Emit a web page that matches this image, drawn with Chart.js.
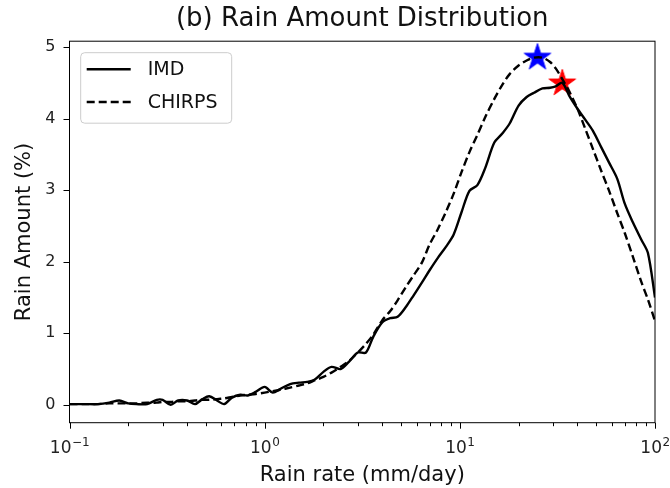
<!DOCTYPE html>
<html>
<head>
<meta charset="utf-8">
<script src="https://cdn.jsdelivr.net/npm/chart.js@4.4.0/dist/chart.umd.min.js"></script>
<style>
  html, body { margin: 0; padding: 0; background: #fff; }
</style>
</head>
<body>
<canvas id="rainChart" width="670" height="488"></canvas>
<script>
// ---------- Data ----------
const rainRate = [0.1, 0.12, 0.14, 0.16, 0.18, 0.2, 0.22, 0.25, 0.28, 0.3,
  0.33, 0.36, 0.4, 0.44, 0.48, 0.52, 0.57, 0.62, 0.68, 0.75,
  0.82, 0.9, 1.0, 1.1, 1.2, 1.35, 1.5, 1.65, 1.8, 2.0,
  2.2, 2.45, 2.7, 3.0, 3.3, 3.6, 4.0, 4.4, 4.8, 5.3,
  5.8, 6.4, 7.0, 7.7, 8.5, 9.3, 10.2, 11.2, 12.3, 13.5,
  15, 16.5, 18, 20, 22, 24, 26.5, 29, 31, 33.5,
  36.5, 40, 44, 48, 53, 58, 64, 70, 77, 85,
  92, 100];

const imdAmount = [0.01, 0.01, 0.01, 0.03, 0.06, 0.02, 0.01, 0.01, 0.07, 0.07,
  0.00, 0.06, 0.06, 0.01, 0.08, 0.12, 0.06, 0.01, 0.10, 0.14,
  0.13, 0.18, 0.25, 0.17, 0.22, 0.29, 0.31, 0.32, 0.35, 0.46,
  0.53, 0.50, 0.60, 0.73, 0.73, 0.95, 1.15, 1.21, 1.23, 1.37,
  1.53, 1.71, 1.88, 2.05, 2.21, 2.38, 2.69, 2.99, 3.07, 3.31,
  3.66, 3.79, 3.93, 4.18, 4.30, 4.36, 4.42, 4.43, 4.45, 4.50,
  4.31, 4.14, 3.98, 3.83, 3.60, 3.39, 3.16, 2.81, 2.55, 2.31,
  2.12, 1.50];

const chirpsAmount = [0.01, 0.01, 0.01, 0.02, 0.02, 0.02, 0.02, 0.03, 0.03, 0.04,
  0.04, 0.05, 0.05, 0.06, 0.07, 0.07, 0.08, 0.09, 0.11, 0.13,
  0.14, 0.15, 0.17, 0.19, 0.21, 0.24, 0.27, 0.30, 0.34, 0.39,
  0.45, 0.53, 0.61, 0.73, 0.85, 0.98, 1.18, 1.31, 1.46, 1.65,
  1.81, 1.99, 2.24, 2.45, 2.70, 2.95, 3.25, 3.53, 3.77, 4.02,
  4.27, 4.47, 4.62, 4.74, 4.81, 4.85, 4.85, 4.79, 4.70, 4.55,
  4.37, 4.14, 3.85, 3.58, 3.27, 3.00, 2.68, 2.40, 2.07, 1.72,
  1.47, 1.17];

// peak markers (stars)
const imdPeak = [{ x: 33.5, y: 4.51 }];
const chirpsPeak = [{ x: 25, y: 4.87 }];

const xMajorTicks = [0.1, 1, 10, 100];
const xTickLabels = ['10^\u22121', '10^0', '10^1', '10^2'];
const xMinorTicks = [0.1, 1, 10].flatMap(d => [2, 3, 4, 5, 6, 7, 8, 9].map(k => k * d));
const yTicks = [0, 1, 2, 3, 4, 5];

const FONT = "'DejaVu Sans', sans-serif";

// ---------- Helpers ----------

// filled 5-point star drawn on a small canvas, used as a point style
function makeStar(color, r) {
  const size = Math.ceil(r * 2 + 4);
  const c = document.createElement('canvas');
  c.width = size; c.height = size;
  const g = c.getContext('2d');
  const cx = size / 2, cy = size / 2 + r * 0.1;
  g.beginPath();
  for (let i = 0; i < 10; i++) {
    const rad = i % 2 === 0 ? r : r * 0.382;
    const a = -Math.PI / 2 + i * Math.PI / 5;
    const px = cx + rad * Math.cos(a), py = cy + rad * Math.sin(a);
    if (i === 0) g.moveTo(px, py); else g.lineTo(px, py);
  }
  g.closePath();
  g.fillStyle = color;
  g.strokeStyle = color;
  g.lineWidth = 1;
  g.fill();
  g.stroke();
  return c;
}

// full box around the axes, tick marks and 10^n tick labels
const axesFrame = {
  id: 'axesFrame',
  afterDatasetsDraw(chart) {
    const { ctx, chartArea: a, scales } = chart;
    ctx.save();
    ctx.strokeStyle = '#000';
    ctx.lineWidth = 1;
    ctx.strokeRect(a.left, a.top, a.right - a.left, a.bottom - a.top);
    ctx.beginPath();
    xMajorTicks.forEach(v => {
      const px = Math.round(scales.x.getPixelForValue(v)) + 0.5;
      ctx.moveTo(px, a.bottom); ctx.lineTo(px, a.bottom + 6);
    });
    xMinorTicks.forEach(v => {
      const px = Math.round(scales.x.getPixelForValue(v)) + 0.5;
      ctx.moveTo(px, a.bottom); ctx.lineTo(px, a.bottom + 3.5);
    });
    yTicks.forEach(v => {
      const py = Math.round(scales.y.getPixelForValue(v)) + 0.5;
      ctx.moveTo(a.left, py); ctx.lineTo(a.left - 6, py);
    });
    ctx.stroke();

    // log tick labels with a raised exponent
    ctx.fillStyle = '#222';
    ctx.textBaseline = 'alphabetic';
    ctx.textAlign = 'left';
    xMajorTicks.forEach((v, i) => {
      const [base, exp] = xTickLabels[i].split('^');
      ctx.font = '17px ' + FONT;
      const wb = ctx.measureText(base).width;
      ctx.font = '12px ' + FONT;
      const we = ctx.measureText(exp).width;
      const x = scales.x.getPixelForValue(v) - (wb + we) / 2;
      ctx.font = '17px ' + FONT;
      ctx.fillText(base, x, a.bottom + 30);
      ctx.font = '12px ' + FONT;
      ctx.fillText(exp, x + wb + 0.5, a.bottom + 23);
    });
    ctx.restore();
  }
};

// matplotlib-like legend box in the upper left corner
const boxLegend = {
  id: 'boxLegend',
  afterDraw(chart) {
    const { ctx, chartArea: a } = chart;
    const x0 = a.left + 11.2, y0 = a.top + 11.5, w = 151, h = 70.5, r = 4;
    ctx.save();
    ctx.beginPath();
    ctx.moveTo(x0 + r, y0);
    ctx.arcTo(x0 + w, y0, x0 + w, y0 + h, r);
    ctx.arcTo(x0 + w, y0 + h, x0, y0 + h, r);
    ctx.arcTo(x0, y0 + h, x0, y0, r);
    ctx.arcTo(x0, y0, x0 + w, y0, r);
    ctx.closePath();
    ctx.fillStyle = 'rgba(255,255,255,0.8)';
    ctx.fill();
    ctx.strokeStyle = '#cccccc';
    ctx.lineWidth = 1;
    ctx.stroke();

    chart.data.datasets.slice(0, 2).forEach((ds, i) => {
      const y = y0 + 16.6 + i * 32.7;
      ctx.beginPath();
      ctx.setLineDash(ds.borderDash || []);
      ctx.strokeStyle = ds.borderColor;
      ctx.lineWidth = ds.borderWidth;
      ctx.moveTo(x0 + 6, y);
      ctx.lineTo(x0 + 50, y);
      ctx.stroke();
      ctx.setLineDash([]);
      ctx.fillStyle = '#111';
      ctx.font = '19px ' + FONT;
      ctx.textBaseline = 'middle';
      ctx.textAlign = 'left';
      ctx.fillText(ds.label, x0 + 67, y + 1);
    });
    ctx.restore();
  }
};

// ---------- Chart ----------
const toPoints = ys => rainRate.map((x, i) => ({ x, y: ys[i] }));

new Chart(document.getElementById('rainChart'), {
  type: 'line',
  data: {
    datasets: [
      { label: 'IMD', data: toPoints(imdAmount), borderColor: '#000', borderWidth: 2.4,
        pointRadius: 0, tension: 0.3, order: 1 },
      { label: 'CHIRPS', data: toPoints(chirpsAmount), borderColor: '#000', borderWidth: 2.4,
        borderDash: [8, 4], pointRadius: 0, tension: 0.3, order: 1 },
      { label: 'IMD peak', data: imdPeak, showLine: false, pointStyle: makeStar('#ff0000', 14),
        pointRadius: 14, order: 2 },
      { label: 'CHIRPS peak', data: chirpsPeak, showLine: false, pointStyle: makeStar('#0000ff', 14),
        pointRadius: 14, order: 2 }
    ]
  },
  options: {
    responsive: false,
    animation: false,
    layout: { padding: { left: 0, right: 14, top: 0, bottom: 0 } },
    plugins: {
      legend: { display: false },
      tooltip: { enabled: false },
      title: {
        display: true, fullSize: false,
        text: '(b) Rain Amount Distribution',
        color: '#111',
        font: { family: FONT, size: 26, weight: 'normal' },
        padding: { top: 4, bottom: 6 }
      }
    },
    scales: {
      x: {
        type: 'logarithmic', min: 0.1, max: 100,
        afterBuildTicks: s => { s.ticks = xMajorTicks.map(v => ({ value: v, major: true })); },
        afterFit: s => { s.height = 65.3; s.paddingLeft = 0; s.paddingRight = 0; },
        grid: { display: false, drawTicks: false },
        border: { display: false },
        ticks: { display: false },
        title: {
          display: true, text: 'Rain rate (mm/day)', color: '#111',
          font: { family: FONT, size: 21 }, padding: { top: 0, bottom: 0 }
        }
      },
      y: {
        min: -0.25, max: 5.08,
        afterBuildTicks: s => { s.ticks = yTicks.map(v => ({ value: v })); },
        afterFit: s => { s.width = 69.5; s.paddingTop = 0; s.paddingBottom = 0; },
        grid: { display: false, drawTicks: false },
        border: { display: false },
        ticks: { padding: 14, color: '#222', font: { family: FONT, size: 16 } },
        title: {
          display: true, text: 'Rain Amount (%)', color: '#111',
          font: { family: FONT, size: 21 }, padding: { top: 12, bottom: 0 }
        }
      }
    }
  },
  plugins: [axesFrame, boxLegend]
});
</script>
</body>
</html>
